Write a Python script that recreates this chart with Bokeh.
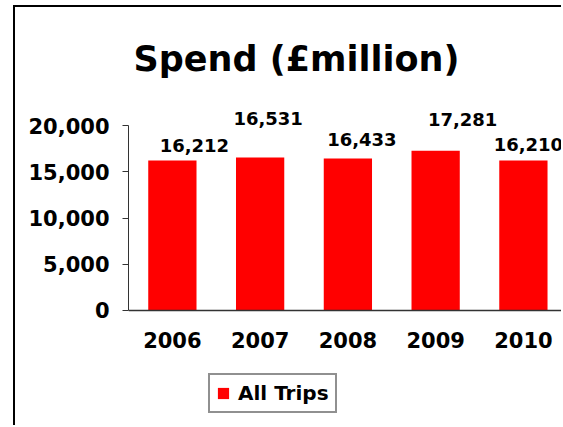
from bokeh.plotting import figure
from bokeh.models import (Range1d, FixedTicker, NumeralTickFormatter, Legend, LegendItem,
                          Title, ColumnDataSource)
from bokeh.embed import file_html
from bokeh.resources import INLINE

# ---- data ----
years = ["2006", "2007", "2008", "2009", "2010"]
spend = [16212, 16531, 16433, 17281, 16210]
labels = ["16,212", "16,531", "16,433", "17,281", "16,210"]
y_ticks = [0, 5000, 10000, 15000, 20000]
series_name = "All Trips"

# label nudges (pixels) – style only
label_dx = [22, 8, 14, 27, 5]
label_dy = [-15, -39, -19, -31, -16]

FONT = "DejaVu Sans"
idx = list(range(len(years)))

src = ColumnDataSource(dict(x=idx, top=spend, label=labels, dx=label_dx, dy=label_dy))

W, H = 548, 420
p = figure(width=W, height=H, output_backend="svg", toolbar_location=None,
           x_range=Range1d(-0.5, 4.457), y_range=Range1d(-12649, 22703),
           min_border_left=113, min_border_right=0, min_border_top=93,
           min_border_bottom=0)
p.title = None
p.outline_line_color = None
p.background_fill_color = "white"
p.border_fill_color = "white"
p.xgrid.visible = False
p.ygrid.visible = False

t = Title(text="Spend (£million)", align="left", offset=5, standoff=44,
          text_font=FONT, text_font_size="35px", text_font_style="bold",
          text_color="black")
p.add_layout(t, "above")

r = p.vbar(x="x", top="top", width=0.55, bottom=0, source=src,
           fill_color="#FF0000", line_color=None)

p.text(x="x", y="top", text="label", source=src, x_offset="dx", y_offset="dy",
       text_align="center", text_baseline="alphabetic",
       text_font={"value": FONT}, text_font_size="18px", text_font_style="bold",
       text_color="black")

# y axis
ya = p.yaxis[0]
ya.ticker = FixedTicker(ticks=y_ticks)
ya.formatter = NumeralTickFormatter(format="0,0")
ya.bounds = (0, 20000)
ya.major_tick_out = 6
ya.major_tick_in = 0
ya.minor_tick_line_color = None
ya.axis_line_color = "#333333"
ya.axis_line_width = 1
ya.major_tick_line_color = "#333333"
ya.major_label_standoff = 13
ya.major_label_text_font = FONT
ya.major_label_text_font_size = "21px"
ya.major_label_text_font_style = "bold"
ya.major_label_text_color = "black"

# x axis
xa = p.xaxis[0]
xa.fixed_location = 0
xa.ticker = FixedTicker(ticks=idx)
xa.major_label_overrides = {i: y for i, y in zip(idx, years)}
xa.major_tick_line_color = None
xa.minor_tick_line_color = None
xa.axis_line_color = "#333333"
xa.axis_line_width = 1.5
xa.major_label_standoff = 16
xa.major_label_text_font = FONT
xa.major_label_text_font_size = "21px"
xa.major_label_text_font_style = "bold"
xa.major_label_text_color = "black"

legend = Legend(items=[LegendItem(label=series_name, renderers=[r])],
                location=(80, 14), orientation="horizontal",
                glyph_width=14, glyph_height=14, label_standoff=8, padding=6,
                margin=0, border_line_color="#222222", border_line_width=2,
                label_text_font=FONT, label_text_font_size="20px",
                label_text_font_style="bold", label_text_color="black",
                background_fill_color="white", background_fill_alpha=1)
p.add_layout(legend, "center")

p.styles = {"border-left": "2px solid black", "border-top": "2px solid black",
            "margin-left": "13px", "margin-top": "5px"}

open("out.html", "w").write(file_html(p, INLINE))
